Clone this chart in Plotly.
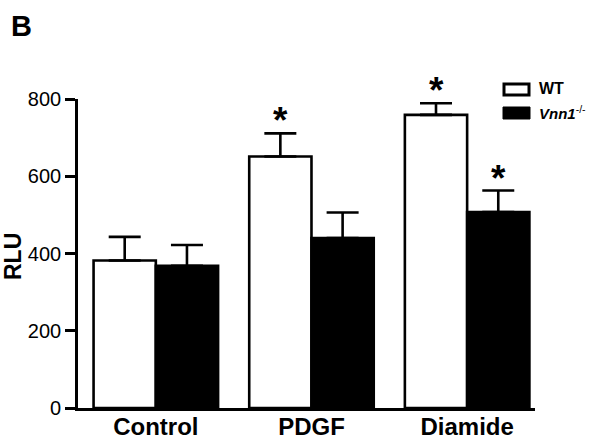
import plotly.graph_objects as go

categories = ["Control", "PDGF", "Diamide"]
wt_values = [382, 651, 759]
wt_errors = [61, 60, 30]
ko_values = [368, 440, 507]
ko_errors = [54, 66, 56]
wt_sig = [False, True, True]
ko_sig = [False, False, True]
y_ticks = [0, 200, 400, 600, 800]

W, H = 601, 442
L, T = 78, 99
R = W - 535
B = H - 408
PW, PH = W - L - R, H - T - B

def px(xp):
    return (xp - L) / PW

def py(yp):
    return (H - B - yp) / PH

FONT = "Liberation Sans, Arial, sans-serif"

fig = go.Figure()
fig.add_trace(go.Bar(
    x=categories, y=wt_values, name="WT",
    marker=dict(color="white", line=dict(color="black", width=2.6)),
    error_y=dict(type="data", symmetric=False, array=wt_errors,
                 arrayminus=[0] * len(wt_errors), color="black",
                 thickness=2.6, width=16),
))
fig.add_trace(go.Bar(
    x=categories, y=ko_values, name="Vnn1-/-",
    marker=dict(color="black", line=dict(color="black", width=2.6)),
    error_y=dict(type="data", symmetric=False, array=ko_errors,
                 arrayminus=[0] * len(ko_errors), color="black",
                 thickness=2.6, width=16),
))

annotations = []
for offset, vals, errs, sigs in ((-0.2, wt_values, wt_errors, wt_sig),
                                 (0.2, ko_values, ko_errors, ko_sig)):
    for i, (v, e, s) in enumerate(zip(vals, errs, sigs)):
        if s:
            annotations.append(dict(x=i + offset, y=v + e, xref="x", yref="y", text="<b>*</b>",
                                    showarrow=False, yanchor="bottom", yshift=-10,
                                    font=dict(family=FONT, size=37, color="black")))

# panel letter
annotations.append(dict(x=px(9), y=py(8), xref="paper", yref="paper", text="<b>B</b>",
                        showarrow=False, xanchor="left", yanchor="top",
                        font=dict(family=FONT, size=29, color="black")))
# y title
annotations.append(dict(x=px(13), y=py(257), xref="paper", yref="paper", text="<b>RLU</b>",
                        showarrow=False, textangle=-90, xanchor="center", yanchor="middle",
                        font=dict(family=FONT, size=23, color="black")))
# legend texts
annotations.append(dict(x=px(537), y=py(89), xref="paper", yref="paper", text="<b>WT</b>",
                        showarrow=False, xanchor="left", yanchor="middle",
                        font=dict(family=FONT, size=16, color="black")))
annotations.append(dict(x=px(537), y=py(112), xref="paper", yref="paper",
                        text="<b><i>Vnn1</i></b><sup>-/-</sup>",
                        showarrow=False, xanchor="left", yanchor="middle",
                        font=dict(family=FONT, size=15, color="black")))

shapes = [
    dict(type="rect", xref="paper", yref="paper", x0=px(504), x1=px(529),
         y0=py(95), y1=py(84), line=dict(color="black", width=3), fillcolor="white"),
    dict(type="rect", xref="paper", yref="paper", x0=px(503), x1=px(530),
         y0=py(119), y1=py(107), line=dict(color="black", width=1), fillcolor="black"),
]

fig.update_layout(
    width=W, height=H,
    margin=dict(l=L, r=R, t=T, b=B, pad=0, autoexpand=False),
    paper_bgcolor="white", plot_bgcolor="white",
    barmode="group", bargap=0.2, bargroupgap=0,
    showlegend=False,
    annotations=annotations, shapes=shapes,
    font=dict(family=FONT, color="black"),
)
fig.update_xaxes(
    range=[-0.5, 2.436], showline=True, linecolor="black", linewidth=2.6,
    ticks="", ticklen=0, showgrid=False, zeroline=False, automargin=False,
    tickfont=dict(family=FONT, size=24, color="black"),
    tickprefix="<b>", ticksuffix="</b>", ticklabelstandoff=-5,
)
fig.update_yaxes(
    range=[0, 800], tickvals=y_ticks, showline=True, linecolor="black", linewidth=2.6,
    ticks="outside", ticklen=10, tickwidth=2.6, tickcolor="black",
    showgrid=False, zeroline=False, automargin=False,
    tickfont=dict(family=FONT, size=20, color="black"),
)

fig.write_html("out.html", config={"displayModeBar": False},
               post_script="document.body.style.margin='0';document.body.style.overflow='hidden';")
